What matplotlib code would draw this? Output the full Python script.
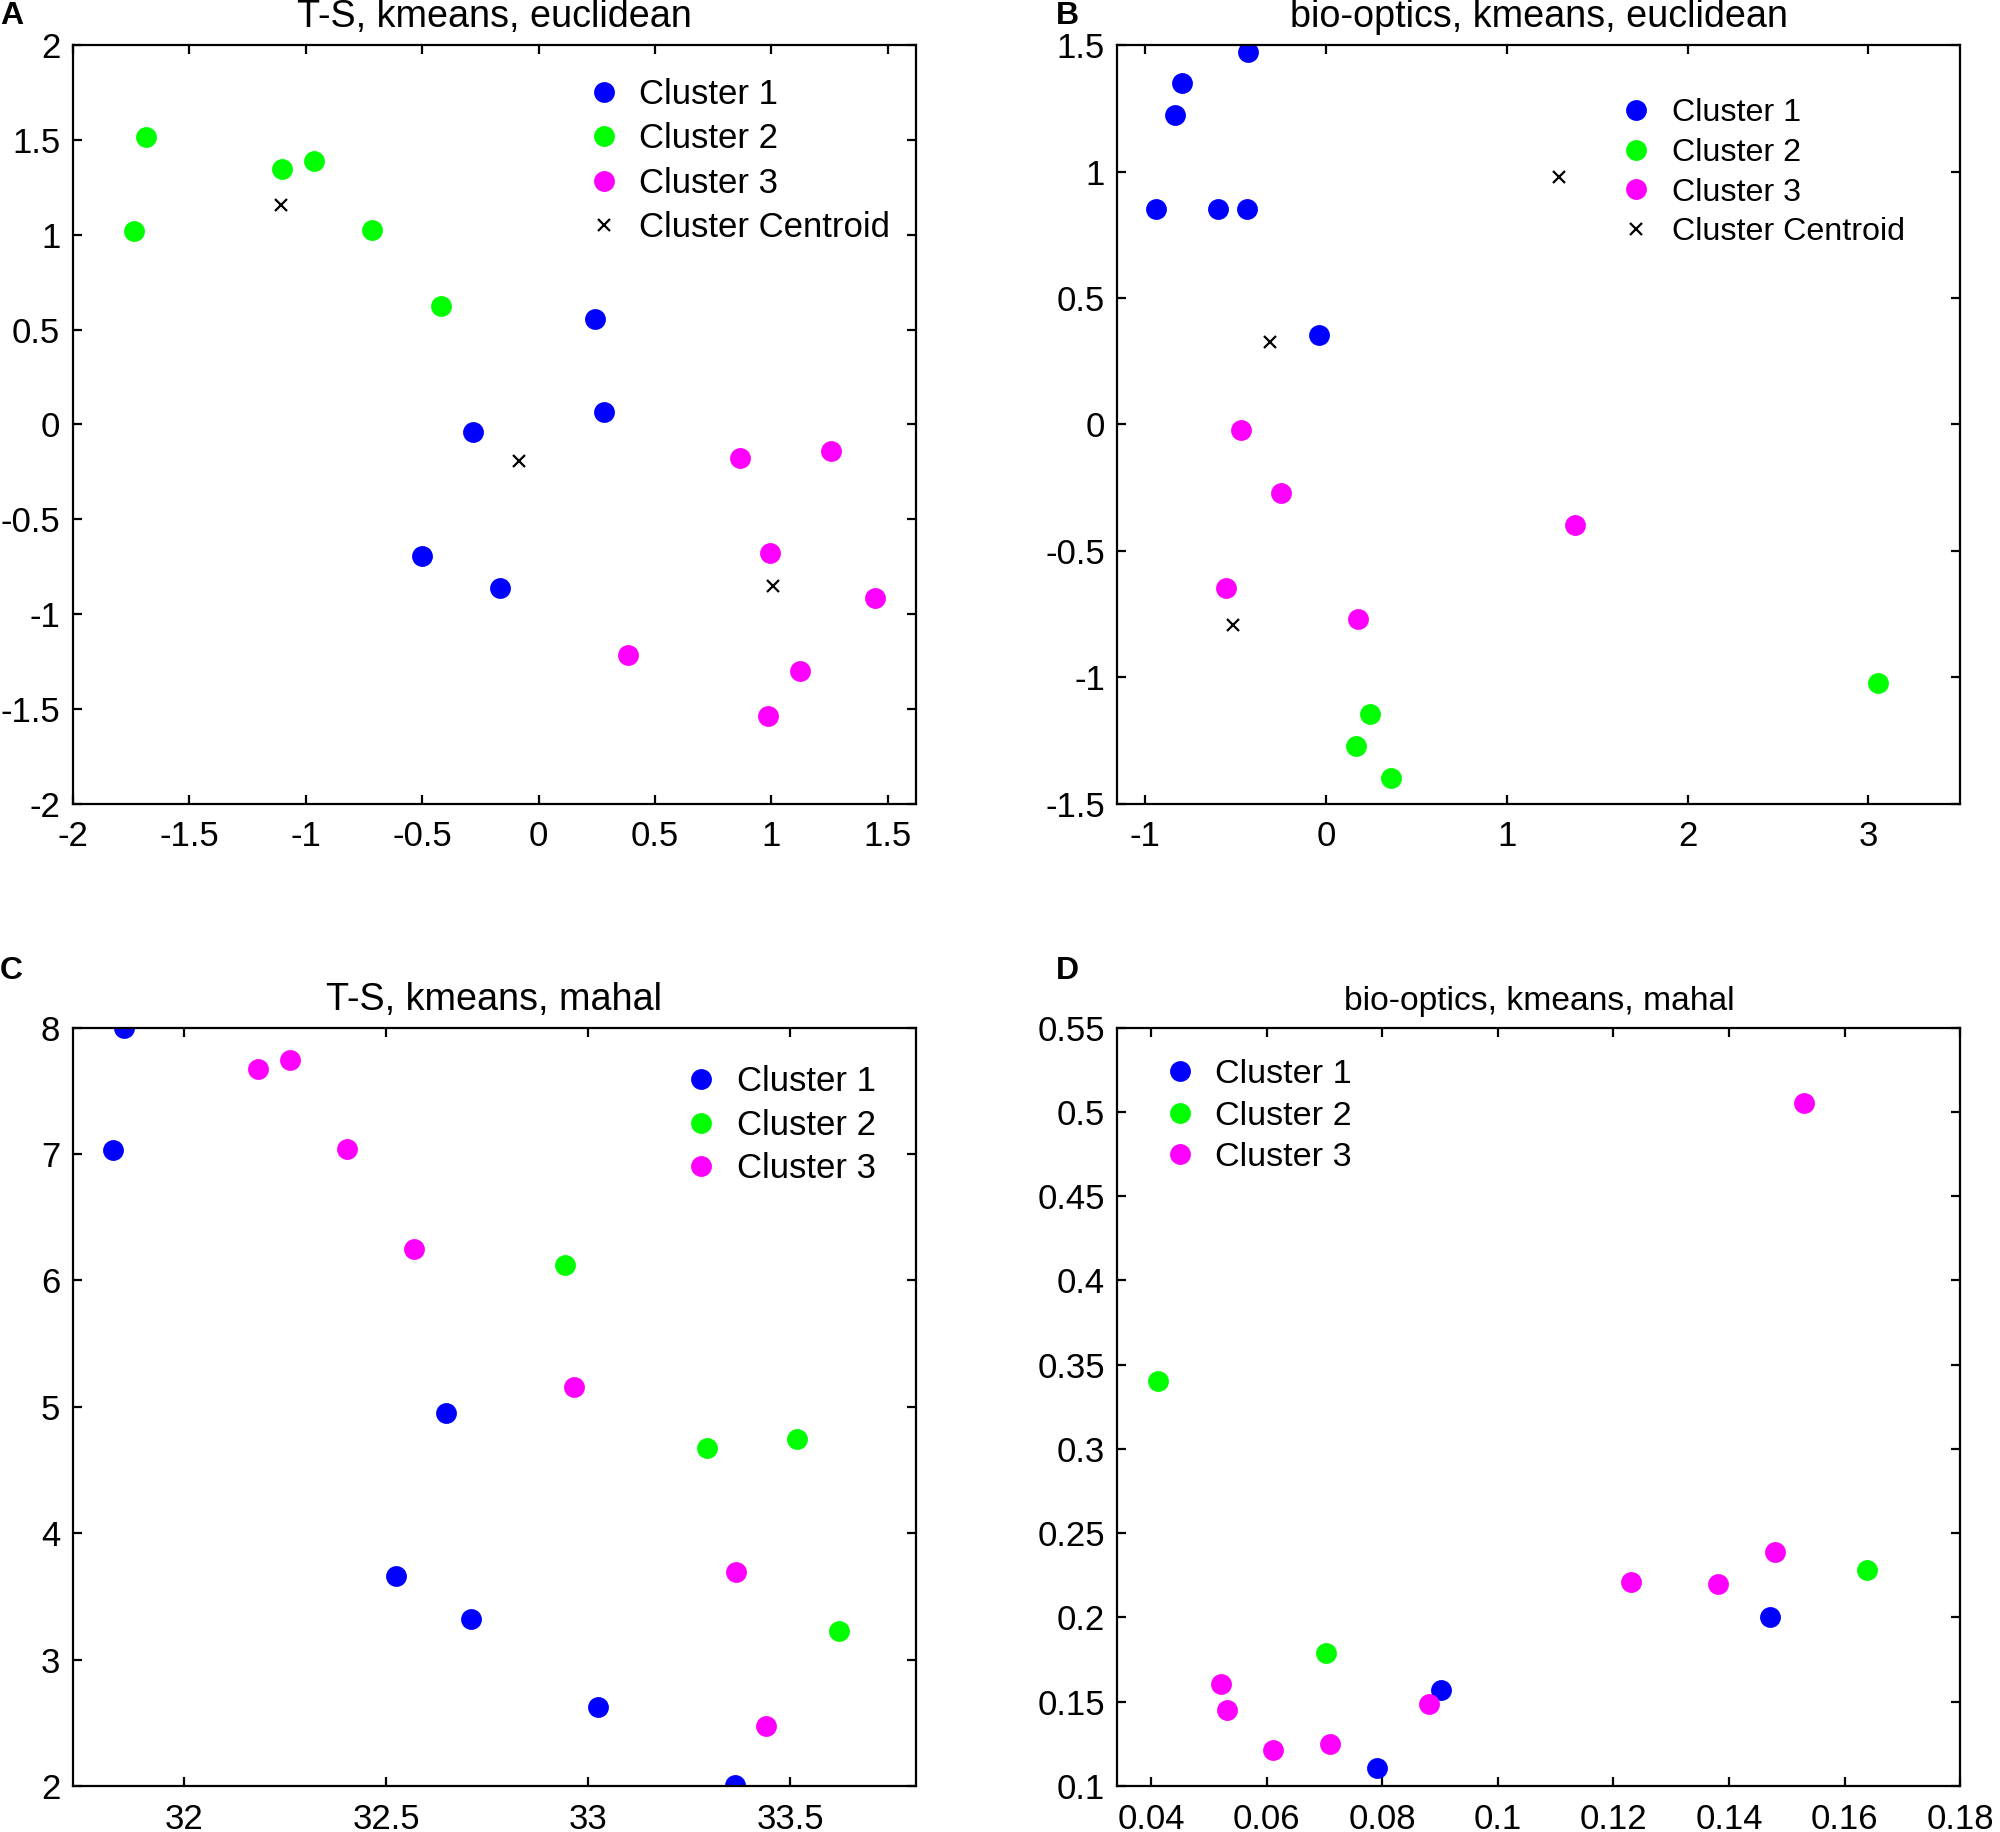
import matplotlib
matplotlib.use("Agg")
import matplotlib.pyplot as plt
from matplotlib.ticker import FormatStrFormatter, MultipleLocator

plt.rcParams["font.family"] = ["Liberation Sans", "DejaVu Sans"]
plt.rcParams["axes.unicode_minus"] = False

BLUE = "#0000ff"
GREEN = "#00ff00"
MAGENTA = "#ff00ff"

# panel A: T-S, kmeans, euclidean
a_c1_x = [0.243, 0.282, -0.282, -0.500, -0.167]
a_c1_y = [0.557, 0.067, -0.039, -0.693, -0.865]
a_c2_x = [-1.687, -1.739, -1.102, -0.965, -0.714, -0.421]
a_c2_y = [1.516, 1.023, 1.349, 1.389, 1.026, 0.623]
a_c3_x = [0.864, 1.255, 0.995, 1.444, 0.386, 1.124, 0.984]
a_c3_y = [-0.175, -0.142, -0.678, -0.914, -1.216, -1.298, -1.537]
a_cen_x = [-1.107, -0.085, 1.006]
a_cen_y = [1.159, -0.194, -0.850]

# panel B: bio-optics, kmeans, euclidean
b_c1_x = [-0.431, -0.795, -0.837, -0.940, -0.597, -0.438, -0.039]
b_c1_y = [1.475, 1.350, 1.225, 0.851, 0.851, 0.851, 0.352]
b_c2_x = [3.053, 0.244, 0.166, 0.360]
b_c2_y = [-1.021, -1.146, -1.273, -1.398]
b_c3_x = [-0.473, -0.251, 1.378, -0.555, 0.177]
b_c3_y = [-0.023, -0.272, -0.397, -0.647, -0.771]
b_cen_x = [1.290, -0.311, -0.516]
b_cen_y = [0.980, 0.327, -0.792]

# panel C: T-S, kmeans, mahal
c_c1_x = [31.852, 31.825, 32.649, 32.525, 32.711, 33.024, 33.362]
c_c1_y = [8.00, 7.03, 4.947, 3.658, 3.321, 2.628, 2.01]
c_c2_x = [32.943, 33.294, 33.516, 33.621]
c_c2_y = [6.118, 4.674, 4.743, 3.230]
c_c3_x = [32.184, 32.263, 32.403, 32.569, 32.964, 33.366, 33.440]
c_c3_y = [7.672, 7.745, 7.039, 6.246, 5.153, 3.695, 2.474]

# panel D: bio-optics, kmeans, mahal
d_c1_x = [0.147, 0.0901, 0.0791]
d_c1_y = [0.2001, 0.157, 0.1109]
d_c2_x = [0.0412, 0.0702, 0.1639]
d_c2_y = [0.3404, 0.1789, 0.2282]
d_c3_x = [0.1529, 0.123, 0.1381, 0.148, 0.0522, 0.0532, 0.0611, 0.071, 0.0881]
d_c3_y = [0.5055, 0.221, 0.220, 0.2389, 0.1608, 0.1450, 0.1212, 0.1250, 0.1486]


def style_axes(ax, xlim, ylim, xstep, ystep):
    ax.set_xlim(*xlim)
    ax.set_ylim(*ylim)
    ax.xaxis.set_major_locator(MultipleLocator(xstep))
    ax.yaxis.set_major_locator(MultipleLocator(ystep))
    ax.xaxis.set_major_formatter(FormatStrFormatter("%g"))
    ax.yaxis.set_major_formatter(FormatStrFormatter("%g"))
    ax.tick_params(direction="in", top=True, right=True, length=3.3,
                   width=0.8, labelsize=12.5)
    ax.tick_params(axis="x", pad=6)
    ax.tick_params(axis="y", pad=4.5)
    for sp in ax.spines.values():
        sp.set_linewidth(0.8)


def draw_clusters(ax, clusters, cen=None):
    for (x, y), col, lab in zip(clusters, [BLUE, GREEN, MAGENTA],
                                ["Cluster 1", "Cluster 2", "Cluster 3"]):
        ax.plot(x, y, "o", color=col, markersize=6.5, label=lab)
    if cen is not None:
        ax.plot(cen[0], cen[1], "x", color="black", markersize=4,
                markeredgewidth=0.8, label="Cluster Centroid")


fig = plt.figure(figsize=(10, 9.16), dpi=200)
w, h = 0.4215, 0.414
axA = fig.add_axes([0.0364, 0.5613, w, h])
axB = fig.add_axes([0.5587, 0.5613, w, h])
axC = fig.add_axes([0.0364, 0.0251, w, h])
axD = fig.add_axes([0.5587, 0.0251, w, h])

leg_kw = dict(frameon=False, handlelength=1.0, borderpad=0,
              borderaxespad=0, loc="upper left")

draw_clusters(axA, [(a_c1_x, a_c1_y), (a_c2_x, a_c2_y), (a_c3_x, a_c3_y)],
              (a_cen_x, a_cen_y))
style_axes(axA, (-2, 1.62), (-2, 2), 0.5, 0.5)
axA.set_title("T-S, kmeans, euclidean", fontsize=13.6, pad=6.5)
axA.legend(bbox_to_anchor=(0.609, 0.957), fontsize=12.5, handletextpad=0.53,
           labelspacing=0.33, **leg_kw)

draw_clusters(axB, [(b_c1_x, b_c1_y), (b_c2_x, b_c2_y), (b_c3_x, b_c3_y)],
              (b_cen_x, b_cen_y))
style_axes(axB, (-1.155, 3.51), (-1.5, 1.5), 1, 0.5)
axB.set_title("bio-optics, kmeans, euclidean", fontsize=13.6, pad=6.5)
axB.legend(bbox_to_anchor=(0.596, 0.93), fontsize=11.6, handletextpad=0.63,
           labelspacing=0.3, **leg_kw)

draw_clusters(axC, [(c_c1_x, c_c1_y), (c_c2_x, c_c2_y), (c_c3_x, c_c3_y)])
style_axes(axC, (31.725, 33.81), (2, 8), 0.5, 1)
axC.set_title("T-S, kmeans, mahal", fontsize=13.6, pad=6.5)
axC.legend(bbox_to_anchor=(0.725, 0.95), fontsize=12.5, handletextpad=0.53,
           labelspacing=0.3, **leg_kw)

draw_clusters(axD, [(d_c1_x, d_c1_y), (d_c2_x, d_c2_y), (d_c3_x, d_c3_y)])
style_axes(axD, (0.0342, 0.18), (0.1, 0.55), 0.02, 0.05)
axD.set_title("bio-optics, kmeans, mahal", fontsize=12.1, pad=6.5)
axD.legend(bbox_to_anchor=(0.0536, 0.958), fontsize=12.3, handletextpad=0.53,
           labelspacing=0.3, **leg_kw)

for lab, x, y in [("A", 0.0, 0.991), ("B", 0.528, 0.991),
                  ("C", 0.0, 0.47), ("D", 0.528, 0.47)]:
    fig.text(x, y, lab, fontsize=11.5, fontweight="bold", ha="left", va="center")

fig.savefig("out.png", dpi=200)
